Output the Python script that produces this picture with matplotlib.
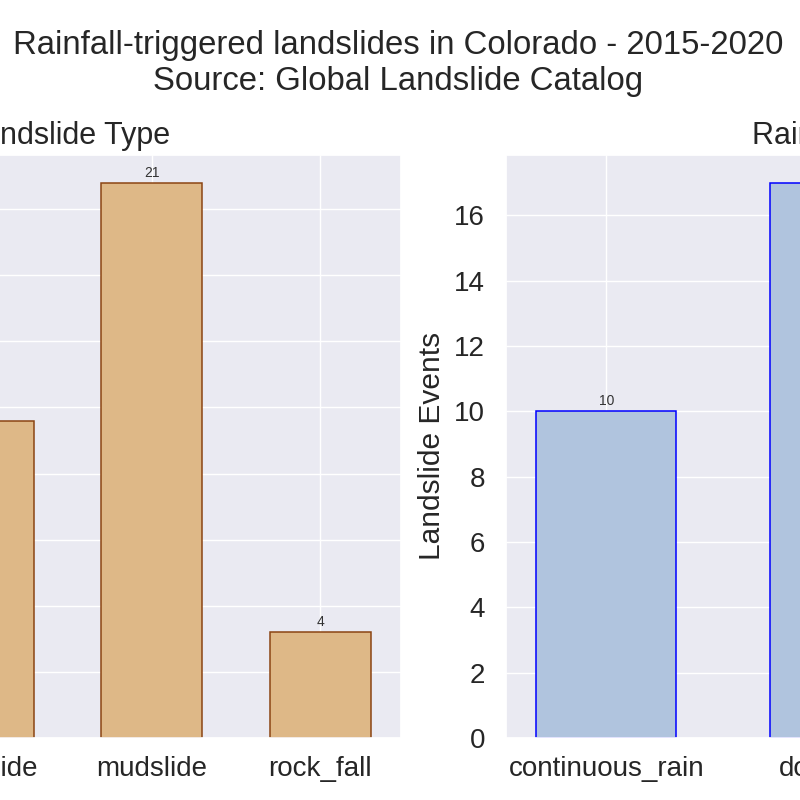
import matplotlib
matplotlib.use("Agg")
import matplotlib.pyplot as plt
import seaborn as sns

# landslide counts by type (first category lies outside the visible crop, value estimated)
type_labels = ["debris_flow", "landslide", "mudslide", "rock_fall"]
type_counts = [3, 12, 21, 4]

# landslide counts by rainfall trigger (last category outside the crop, value estimated)
trigger_labels = ["continuous_rain", "downpour", "rain"]
trigger_counts = [10, 17, 13]

sns.set_theme(style="darkgrid")
plt.rcParams["font.family"] = ["Liberation Sans", "DejaVu Sans"]

fig = plt.figure(figsize=(8, 8), dpi=100)
ax1 = fig.add_axes([-0.3325, 0.0775, 0.834, 0.729])
ax2 = fig.add_axes([0.6325, 0.0775, 0.834, 0.729])

b1 = ax1.bar(type_labels, type_counts, width=0.6, color="burlywood",
             edgecolor="saddlebrown", linewidth=1.1)
ax1.bar_label(b1, fontsize=10, padding=2, color=".2")
ax1.set_title("Landslide Type", fontsize=22, pad=8)
ax1.set_ylabel("Landslide Events", fontsize=21.5, labelpad=6)
ax1.set_yticks([0, 2.5, 5, 7.5, 10, 12.5, 15, 17.5, 20])

b2 = ax2.bar(trigger_labels, trigger_counts, width=0.6, color="lightsteelblue",
             edgecolor="blue", linewidth=1.1)
ax2.bar_label(b2, fontsize=10, padding=2, color=".2")
ax2.set_title("Rainfall Type", fontsize=22, pad=8)
ax2.set_ylabel("Landslide Events", fontsize=21.5, labelpad=6)

for ax in (ax1, ax2):
    ax.tick_params(axis="x", labelsize=20, length=0, pad=13)
    ax.tick_params(axis="y", labelsize=20, length=0, pad=15)

fig.suptitle("Rainfall-triggered landslides in Colorado - 2015-2020\nSource: Global Landslide Catalog",
             fontsize=23.7, x=0.4975, y=0.9625, va="top")

fig.savefig("out.png", dpi=100)
